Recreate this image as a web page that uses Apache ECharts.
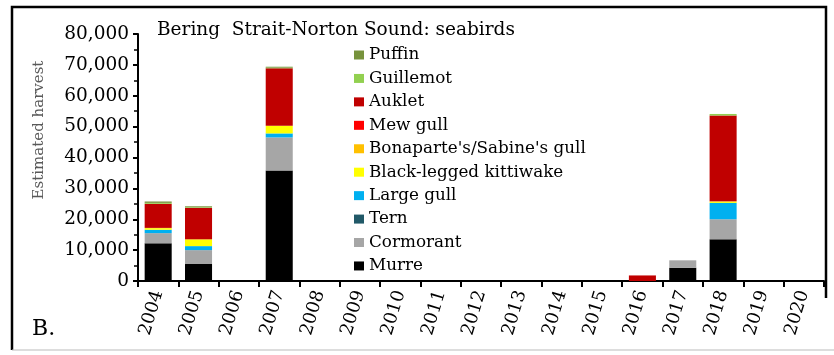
<!DOCTYPE html>
<html>
<head>
<meta charset="utf-8">
<script src="https://cdn.jsdelivr.net/npm/echarts@6/dist/echarts.min.js"></script>
<style>html,body{margin:0;padding:0;background:#fff;}#c{width:834px;height:355px;}</style>
</head>
<body>
<div id="c"></div>
<script>
const years = ['2004','2005','2006','2007','2008','2009','2010','2011','2012','2013','2014','2015','2016','2017','2018','2019','2020'];
const murre      = [12200, 5500, 0, 35800, 0,0,0,0,0,0,0,0, 0, 4300, 13500, 0, 0];
const cormorant  = [ 3300, 4500, 0, 10700, 0,0,0,0,0,0,0,0, 0, 2400,  6500, 0, 0];
const tern       = [    0,    0, 0,     0, 0,0,0,0,0,0,0,0, 0,    0,     0, 0, 0];
const largeGull  = [ 1100, 1300, 0,  1300, 0,0,0,0,0,0,0,0, 0,    0,  5300, 0, 0];
const kittiwake  = [  500, 2200, 0,  2500, 0,0,0,0,0,0,0,0, 0,    0,   300, 0, 0];
const bonaparte  = [  100,    0, 0,     0, 0,0,0,0,0,0,0,0, 0,    0,   200, 0, 0];
const mewGull    = [    0,    0, 0,     0, 0,0,0,0,0,0,0,0, 0,    0,     0, 0, 0];
const auklet     = [ 7800, 10200, 0, 18600, 0,0,0,0,0,0,0,0, 1800, 0, 27800, 0, 0];
const guillemot  = [  300,  200, 0,   200, 0,0,0,0,0,0,0,0, 0,    0,   500, 0, 0];
const puffin     = [  450,  300, 0,   300, 0,0,0,0,0,0,0,0, 0,    0,     0, 0, 0];
const yTicks = [0, 10000, 20000, 30000, 40000, 50000, 60000, 70000, 80000];

const seriesDefs = [
  ['Murre', murre, '#000000'],
  ['Cormorant', cormorant, '#A6A6A6'],
  ['Tern', tern, '#215968'],
  ['Large gull', largeGull, '#00B0F0'],
  ['Black-legged kittiwake', kittiwake, '#FFFF00'],
  ["Bonaparte's/Sabine's gull", bonaparte, '#FFC000'],
  ['Mew gull', mewGull, '#FF0000'],
  ['Auklet', auklet, '#C00000'],
  ['Guillemot', guillemot, '#92D050'],
  ['Puffin', puffin, '#77933C']
];

const serif = '"DejaVu Serif", "Liberation Serif", serif';
const chart = echarts.init(document.getElementById('c'));
chart.setOption({
  animation: false,
  backgroundColor: '#fff',
  grid: {left: 138, right: 10, top: 34, bottom: 74},
  legend: {
    orient: 'vertical', left: 354, top: 46.5, padding: 0,
    data: seriesDefs.map(s => s[0]).reverse(),
    itemWidth: 10, itemHeight: 9, itemGap: 6.44,
    icon: 'rect',
    textStyle: {fontFamily: serif, fontSize: 16.8, color: '#000', lineHeight: 17}
  },
  xAxis: {
    type: 'category', data: years,
    axisLine: {lineStyle: {color: '#000', width: 2}},
    axisTick: {show: true, length: 6, lineStyle: {color: '#000', width: 2}},
    axisLabel: {rotate: 73, interval: 0, fontFamily: serif, fontSize: 18, color: '#000', margin: 10}
  },
  yAxis: {
    type: 'value', min: yTicks[0], max: yTicks[yTicks.length - 1], interval: 10000,
    axisLine: {show: true, lineStyle: {color: '#000', width: 2}},
    axisTick: {show: true, length: 5, lineStyle: {color: '#000', width: 2}},
    minorTick: {show: true, splitNumber: 2, length: 4, lineStyle: {color: '#000', width: 1.5}},
    splitLine: {show: false},
    axisLabel: {fontFamily: serif, fontSize: 18.5, color: '#000', margin: 9,
      formatter: v => v.toLocaleString('en-US')}
  },
  series: seriesDefs.map(s => ({
    name: s[0], type: 'bar', stack: 'total', data: s[1],
    barCategoryGap: '33%',
    itemStyle: {color: s[2]}
  })),
  graphic: [
    {type: 'text', left: 157, top: 21, style: {text: 'Bering  Strait-Norton Sound: seabirds', font: '18.5px ' + serif, fill: '#000'}},
    {type: 'text', left: 32, top: 318, style: {text: 'B.', font: '22px ' + serif, fill: '#000'}},
    {type: 'text', x: 39, y: 130, rotation: Math.PI / 2, style: {text: 'Estimated harvest', font: '15px ' + serif, fill: '#595959', align: 'center', verticalAlign: 'middle'}},
    {type: 'polyline', shape: {points: [[12, 350], [12, 7], [826, 7], [826, 298]]}, style: {stroke: '#000', lineWidth: 2.5, fill: null}},
    {type: 'line', shape: {x1: 12, y1: 350, x2: 834, y2: 350}, style: {stroke: '#BBBBBB', lineWidth: 1}}
  ]
});
</script>
</body>
</html>
